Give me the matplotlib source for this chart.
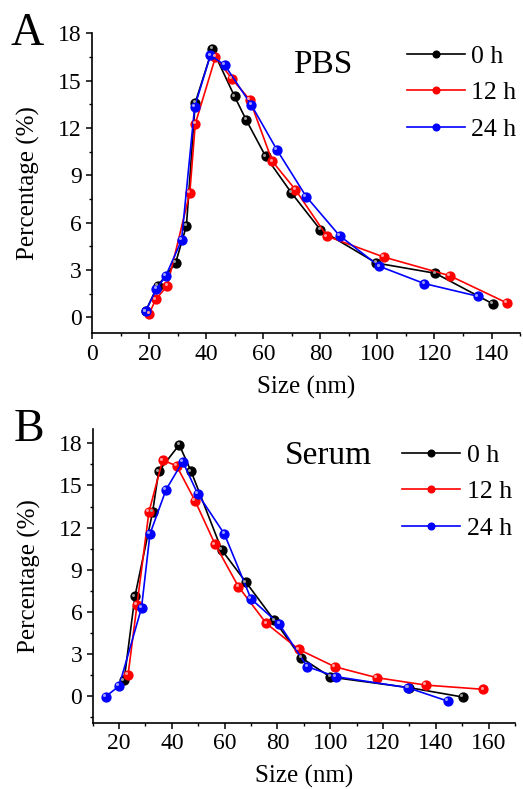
import matplotlib
matplotlib.use("Agg")
import matplotlib.pyplot as plt
import matplotlib.transforms as mtransforms
from matplotlib.ticker import MultipleLocator

plt.rcParams['font.family'] = ['Liberation Serif', 'DejaVu Serif']

# ---------------- data ----------------
series_labels = ["0 h", "12 h", "24 h"]
series_colors = ["#000000", "#ff0000", "#0000ff"]
highlight_colors = ["#9a9a9a", "#ff9c9c", "#9c9cff"]

# Panel A: PBS
a_x0 = [18.7, 22.9, 29.2, 33.0, 36.1, 42.1, 49.9, 54.0, 60.8, 69.8, 80.0, 99.6, 120.3, 140.4]
a_y0 = [0.4, 2.0, 3.45, 5.8, 13.6, 17.0, 14.0, 12.5, 10.2, 7.9, 5.55, 3.45, 2.8, 0.87]
a_x12 = [20.0, 22.2, 26.3, 34.2, 36.1, 43.2, 49.0, 55.2, 63.1, 71.2, 82.3, 102.2, 125.3, 145.3]
a_y12 = [0.25, 1.14, 2.0, 7.9, 12.25, 16.5, 15.1, 13.8, 9.9, 8.1, 5.15, 3.83, 2.65, 0.93]
a_x24 = [18.7, 22.5, 25.8, 31.3, 35.9, 41.4, 46.4, 55.8, 64.8, 75.0, 86.7, 100.7, 116.4, 135.1]
a_y24 = [0.4, 1.8, 2.65, 4.9, 13.35, 16.6, 16.0, 13.45, 10.6, 7.66, 5.18, 3.24, 2.15, 1.35]

# Panel B: Serum
b_x0 = [21.9, 26.0, 32.7, 35.0, 42.8, 47.3, 58.9, 68.1, 78.8, 89.0, 100.1, 129.9, 150.2]
b_y0 = [1.12, 7.1, 13.1, 16.0, 17.9, 16.0, 10.4, 8.1, 5.4, 2.73, 1.35, 0.6, -0.07]
b_x12 = [23.4, 26.8, 31.3, 36.5, 41.8, 48.8, 56.4, 65.2, 75.8, 88.1, 101.7, 117.6, 136.2, 158.0]
b_y12 = [1.5, 6.5, 13.1, 16.8, 16.4, 13.9, 10.8, 7.8, 5.17, 3.32, 2.09, 1.31, 0.78, 0.48]
b_x24 = [14.9, 20.0, 28.5, 31.7, 37.8, 44.1, 49.8, 59.9, 70.0, 80.7, 91.3, 102.2, 129.3, 144.5]
b_y24 = [-0.04, 0.71, 6.28, 11.54, 14.7, 16.7, 14.4, 11.54, 6.92, 5.12, 2.09, 1.38, 0.6, -0.36]

a_xticks = [0, 20, 40, 60, 80, 100, 120, 140]
b_xticks = [20, 40, 60, 80, 100, 120, 140, 160]
yticks = [0, 3, 6, 9, 12, 15, 18]

panels = [
    dict(letter="A", name="PBS", xs=[a_x0, a_x12, a_x24], ys=[a_y0, a_y12, a_y24],
         xlim=(0, 150), ylim=(-1, 18), xticks=a_xticks,
         rect=[0.1765, 0.5776, 0.8178, 0.3802],
         name_pos=(0.54, 0.895), leg_anchor=(0.735, 0.962)),
    dict(letter="B", name="Serum", xs=[b_x0, b_x12, b_x24], ys=[b_y0, b_y12, b_y24],
         xlim=(10, 170), ylim=(-1.9, 19), xticks=b_xticks,
         rect=[0.1772, 0.0840, 0.8075, 0.3719],
         name_pos=(0.557, 0.91), leg_anchor=(0.732, 0.951)),
]

fig = plt.figure(figsize=(5.23, 7.89), dpi=100)

for p in panels:
    ax = fig.add_axes(p["rect"])
    hl_offset = ax.transData + mtransforms.ScaledTranslation(-1.2 / 72, 1.2 / 72,
                                                             fig.dpi_scale_trans)
    for xs, ys, c, hc, lab in zip(p["xs"], p["ys"], series_colors,
                                  highlight_colors, series_labels):
        ax.plot(xs, ys, color=c, lw=1.2, marker='o', ms=6.4, mfc=c, mec=c,
                label=lab, zorder=3)
        ax.plot(xs, ys, ls='none', marker='o', ms=2.2, mfc=hc, mec='none',
                transform=hl_offset, zorder=3.5)
    ax.set_xlim(*p["xlim"])
    ax.set_ylim(*p["ylim"])
    ax.set_xticks(p["xticks"])
    ax.set_yticks(yticks)
    ax.xaxis.set_minor_locator(MultipleLocator(10))
    ax.yaxis.set_minor_locator(MultipleLocator(1.5))
    for s in ["top", "right"]:
        ax.spines[s].set_visible(False)
    for s in ["left", "bottom"]:
        ax.spines[s].set_linewidth(1.2)
    ax.tick_params(which='major', direction='out', length=4.5, width=1.1,
                   labelsize=17, pad=3)
    ax.tick_params(which='minor', direction='out', length=2.5, width=1.0)
    ax.set_xlabel("Size (nm)", fontsize=18, labelpad=8)
    ax.set_ylabel("Percentage (%)", fontsize=18, labelpad=13)
    ax.text(p["name_pos"][0], p["name_pos"][1], p["name"], transform=ax.transAxes,
            fontsize=24, ha='center', va='center')
    ax.text(-0.152, 1.0, p["letter"], transform=ax.transAxes, fontsize=33,
            ha='center', va='center')
    ax.legend(loc='upper left', bbox_to_anchor=p["leg_anchor"], frameon=False,
              fontsize=18.5, handlelength=2.26, handletextpad=0.26,
              labelspacing=0.53, borderpad=0, borderaxespad=0, markerscale=0.75)

fig.savefig("out.png", dpi=100)
